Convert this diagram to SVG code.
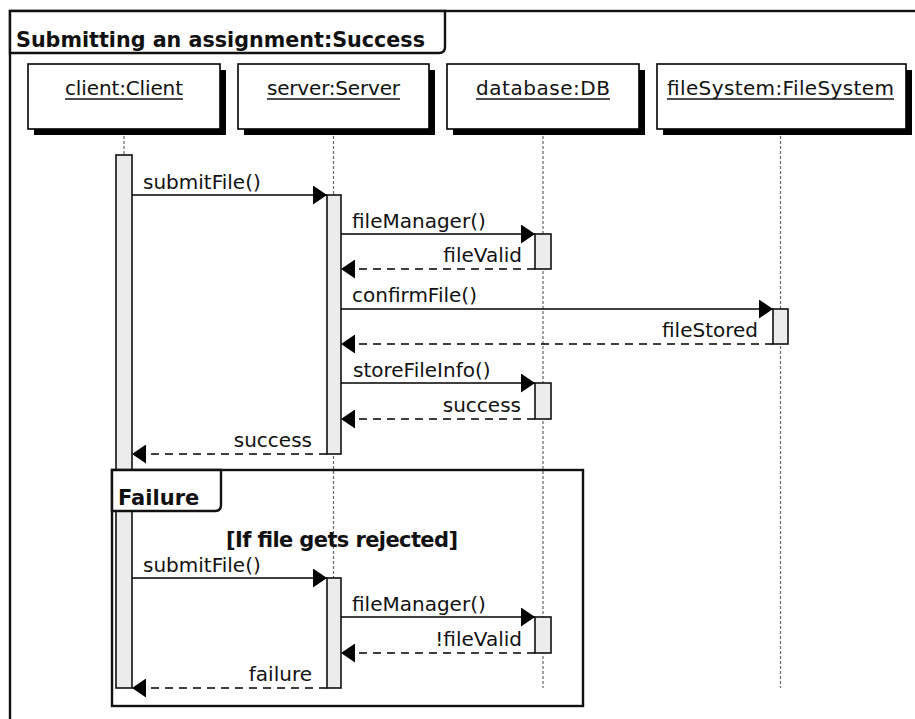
<svg xmlns="http://www.w3.org/2000/svg" width="915" height="719" viewBox="0 0 915 719">
  <defs>
    <marker id="head" markerUnits="userSpaceOnUse" viewBox="0 0 14 19" refX="14" refY="9.5" markerWidth="14" markerHeight="19" orient="auto">
      <path d="M0,0 L14,9.5 L0,19 Z" fill="#000"/>
    </marker>
    <style>
      text { font-family: "DejaVu Sans", "Liberation Sans", sans-serif; fill: #111; }
      .lbl { font-size: 20px; }
      .bold { font-size: 21px; font-weight: bold; }
      .title { font-size: 22px; font-weight: bold; }
      .end { text-anchor: end; }
      .mid { text-anchor: middle; }
      .frame { fill: none; stroke: #111; stroke-width: 2.4; }
      .tab { fill: #fff; stroke: #111; stroke-width: 2.4; }
      .head { fill: #fff; stroke: #000; stroke-width: 1.6; }
      .shadow { fill: #000; }
      .uline { stroke: #111; stroke-width: 1.4; }
      .life { stroke: #666; stroke-width: 1.2; stroke-dasharray: 3 2; fill: none; }
      .act { fill: #ececec; stroke: #111; stroke-width: 1.6; }
      .call { stroke: #000; stroke-width: 1.6; fill: none; marker-end: url(#head); }
      .ret { stroke: #000; stroke-width: 1.6; fill: none; stroke-dasharray: 8 6; marker-end: url(#head); }
    </style>
  </defs>

  <rect width="915" height="719" fill="#fff"/>

  <!-- outer sequence frame -->
  <g id="frame-main">
    <rect class="frame" x="10" y="11" width="930" height="730"/>
    <path class="tab" d="M10,11 L445,11 L445,47 Q445,53 439,53 L10,53 Z"/>
    <text class="title" x="16" y="47" textLength="409" lengthAdjust="spacingAndGlyphs">Submitting an assignment:Success</text>
  </g>

  <!-- lifelines -->
  <g id="lifelines">
    <line class="life" x1="124" y1="136" x2="124" y2="688"/>
    <line class="life" x1="333.5" y1="136" x2="333.5" y2="688"/>
    <line class="life" x1="543" y1="136" x2="543" y2="688"/>
    <line class="life" x1="780.5" y1="136" x2="780.5" y2="688"/>
  </g>

  <g id="client">
    <rect class="shadow" x="34" y="70" width="192" height="65"/>
    <rect class="head" x="28" y="64" width="192" height="65"/>
    <text class="lbl mid" x="124" y="95" textLength="118">client:Client</text>
    <line class="uline" x1="65" y1="99" x2="183" y2="99"/>
    <rect class="act" x="116" y="155" width="16" height="533"/>
  </g>

  <g id="server">
    <rect class="shadow" x="244" y="70" width="191" height="65"/>
    <rect class="head" x="238" y="64" width="191" height="65"/>
    <text class="lbl mid" x="333.5" y="95" textLength="133">server:Server</text>
    <line class="uline" x1="267" y1="99" x2="400" y2="99"/>
    <rect class="act" x="327" y="195" width="14" height="259"/>
    <rect class="act" x="327" y="578" width="14" height="110"/>
  </g>

  <g id="database">
    <rect class="shadow" x="453" y="70" width="192" height="65"/>
    <rect class="head" x="447" y="64" width="192" height="65"/>
    <text class="lbl mid" x="543" y="95" textLength="134">database:DB</text>
    <line class="uline" x1="476" y1="99" x2="610" y2="99"/>
    <rect class="act" x="535" y="234" width="16" height="35"/>
    <rect class="act" x="535" y="383" width="16" height="36"/>
    <rect class="act" x="535" y="617" width="16" height="36"/>
  </g>

  <g id="fileSystem">
    <rect class="shadow" x="663" y="70" width="249" height="65"/>
    <rect class="head" x="657" y="64" width="249" height="65"/>
    <text class="lbl mid" x="780.5" y="95" textLength="227">fileSystem:FileSystem</text>
    <line class="uline" x1="667" y1="99" x2="894" y2="99"/>
    <rect class="act" x="773" y="309" width="15" height="35"/>
  </g>

  <!-- messages -->
  <g id="connectors">
    <line class="call" x1="132" y1="195" x2="327" y2="195"/>
    <text class="lbl" x="143" y="189">submitFile()</text>

    <line class="call" x1="341" y1="234" x2="535" y2="234"/>
    <text class="lbl" x="352" y="228">fileManager()</text>

    <line class="ret" x1="535" y1="269" x2="341" y2="269"/>
    <text class="lbl end" x="522" y="262">fileValid</text>

    <line class="call" x1="341" y1="309" x2="773" y2="309"/>
    <text class="lbl" x="352" y="302">confirmFile()</text>

    <line class="ret" x1="773" y1="344" x2="341" y2="344"/>
    <text class="lbl end" x="758" y="337">fileStored</text>

    <line class="call" x1="341" y1="383" x2="535" y2="383"/>
    <text class="lbl" x="353" y="377">storeFileInfo()</text>

    <line class="ret" x1="535" y1="419" x2="341" y2="419"/>
    <text class="lbl end" x="521" y="412">success</text>

    <line class="ret" x1="327" y1="454" x2="132" y2="454"/>
    <text class="lbl end" x="312" y="447">success</text>

    <line class="call" x1="132" y1="578" x2="327" y2="578"/>
    <text class="lbl" x="143" y="572">submitFile()</text>

    <line class="call" x1="341" y1="617" x2="535" y2="617"/>
    <text class="lbl" x="352" y="611">fileManager()</text>

    <line class="ret" x1="535" y1="653" x2="341" y2="653"/>
    <text class="lbl end" x="522" y="646">!fileValid</text>

    <line class="ret" x1="327" y1="688" x2="132" y2="688"/>
    <text class="lbl end" x="312" y="681">failure</text>
  </g>

  <!-- alternative fragment -->
  <g id="frame-failure">
    <rect class="frame" x="112" y="470" width="471" height="236"/>
    <path class="tab" d="M112,470 L221,470 L221,505 Q221,511 215,511 L112,511 Z"/>
    <text class="bold" x="118" y="505">Failure</text>
    <text class="bold" x="226" y="547" textLength="232">[If file gets rejected]</text>
  </g>
</svg>
